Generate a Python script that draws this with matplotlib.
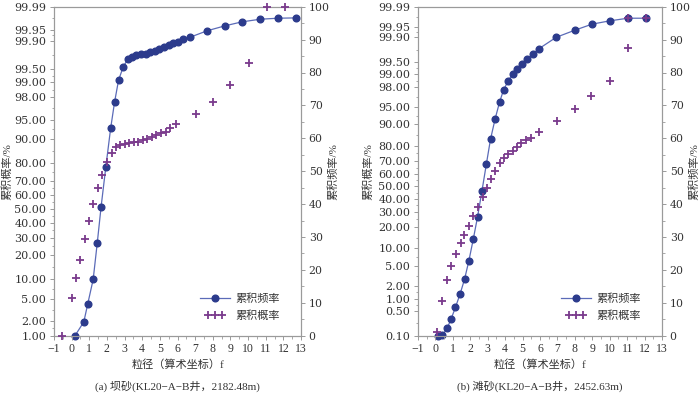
import math
import numpy as np
import matplotlib
matplotlib.use("Agg")
import matplotlib.pyplot as plt
from matplotlib.legend_handler import HandlerLine2D
from matplotlib.ticker import FixedLocator, FixedFormatter, MultipleLocator

plt.rcParams['font.family'] = ['Liberation Serif', 'Noto Sans CJK SC']
plt.rcParams['axes.unicode_minus'] = True

# ---------------- data ----------------
# panel (a)  坝砂
a_freq_x = [0.19, 0.69, 0.91, 1.22, 1.45, 1.67, 1.94, 2.21, 2.43, 2.66, 2.93, 3.18, 3.43, 3.67,
            3.92, 4.19, 4.46, 4.70, 4.95, 5.22, 5.49, 5.73, 6.00, 6.32, 6.70, 7.69, 8.70, 9.66,
            10.70, 11.70, 12.72]
a_freq = [0.0, 4.2, 9.6, 17.1, 28.1, 39.2, 51.4, 63.0, 70.9, 77.7, 81.8, 84.0, 84.8, 85.2,
          85.5, 85.7, 86.1, 86.6, 87.1, 87.8, 88.4, 88.9, 89.4, 90.1, 90.7, 92.7, 94.2, 95.4,
          96.2, 96.5, 96.6]
a_prob_x = [-0.54, 0.00, 0.26, 0.47, 0.76, 0.99, 1.23, 1.50, 1.73, 2.00, 2.26, 2.51, 2.76, 3.00,
            3.27, 3.52, 3.77, 4.03, 4.28, 4.55, 4.80, 5.06, 5.33, 5.60, 5.94, 7.03, 8.00, 8.95,
            10.03, 11.09, 12.07]
a_prob = [1.00, 5.18, 10.37, 17.47, 28.94, 41.33, 53.51, 65.28, 73.63, 80.51, 84.73, 87.43,
          88.05, 88.41, 88.67, 89.00, 89.22, 89.80, 90.11, 90.82, 91.33, 91.82, 92.25, 93.12,
          94.03, 95.92, 97.58, 98.87, 99.63, 99.99, 99.99]

# panel (b)  滩砂
b_freq_x = [0.15, 0.40, 0.67, 0.90, 1.15, 1.42, 1.67, 1.92, 2.17, 2.42, 2.67, 2.92, 3.16, 3.43,
            3.68, 3.91, 4.18, 4.43, 4.70, 4.97, 5.28, 5.59, 5.93, 6.93, 8.02, 8.99, 10.00,
            11.04, 12.07]
b_freq = [0.0, 0.12, 2.25, 5.08, 8.63, 12.77, 17.14, 22.8, 29.3, 36.2, 44.0, 52.1, 59.7, 66.0,
          71.0, 74.7, 77.5, 79.5, 81.2, 82.6, 84.2, 85.6, 87.2, 90.7, 92.9, 94.7, 95.7, 96.5,
          96.5]
b_prob_x = [0.09, 0.38, 0.67, 0.92, 1.17, 1.44, 1.65, 1.90, 2.17, 2.42, 2.71, 2.94, 3.19, 3.42,
            3.68, 3.91, 4.16, 4.43, 4.70, 4.93, 5.22, 5.51, 5.97, 6.95, 7.98, 8.94, 9.99, 11.04,
            11.04, 12.07]
b_prob = [0.132, 0.90, 2.64, 4.98, 8.00, 11.94, 15.72, 20.81, 27.22, 33.29, 41.06, 48.92, 55.84,
          62.74, 68.79, 72.38, 74.86, 77.01, 79.07, 81.38, 83.15, 84.33, 87.12, 91.31, 94.48,
          96.93, 98.57, 99.787, 99.975, 99.975]

left_ticks_a = [1, 2, 5, 10, 20, 30, 40, 50, 60, 70, 80, 90, 95, 98, 99, 99.5, 99.9, 99.95, 99.99]
left_ticks_b = [0.1, 0.5, 1, 2, 5, 10, 20, 30, 40, 50, 60, 70, 80, 90, 95, 98, 99, 99.5, 99.9,
                99.95, 99.99]
right_ticks = [0, 10, 20, 30, 40, 50, 60, 70, 80, 90, 100]
x_ticks = list(range(-1, 14))

captions = ["(a) 坝砂(KL20−A−B井，2182.48m)", "(b) 滩砂(KL20−A−B井，2452.63m)"]
xlabel = "粒径（算术坐标）f"
left_label = "累积概率/%"
right_label = "累积频率/%"
legend_labels = ["累积频率", "累积概率"]

# ---------------- probability scale ----------------
_a = [-3.969683028665376e+01, 2.209460984245205e+02, -2.759285104469687e+02,
      1.383577518672690e+02, -3.066479806614716e+01, 2.506628277459239e+00]
_b = [-5.447609879822406e+01, 1.615858368580409e+02, -1.556989798598866e+02,
      6.680131188771972e+01, -1.328068155288572e+01]
_c = [-7.784894002430293e-03, -3.223964580411365e-01, -2.400758277161838e+00,
      -2.549732539343734e+00, 4.374664141464968e+00, 2.938163982698783e+00]
_d = [7.784695709041462e-03, 3.224671290700398e-01, 2.445134137142996e+00,
      3.754408661907416e+00]


def _ppf(p):
    p = np.clip(np.asarray(p, dtype=float), 1e-9, 1 - 1e-9)
    out = np.empty_like(p)
    plow = 0.02425
    lo = p < plow
    hi = p > 1 - plow
    mid = ~(lo | hi)
    if np.any(lo):
        q = np.sqrt(-2 * np.log(p[lo]))
        out[lo] = (((((_c[0]*q+_c[1])*q+_c[2])*q+_c[3])*q+_c[4])*q+_c[5]) / \
                  ((((_d[0]*q+_d[1])*q+_d[2])*q+_d[3])*q+1)
    if np.any(hi):
        q = np.sqrt(-2 * np.log(1 - p[hi]))
        out[hi] = -(((((_c[0]*q+_c[1])*q+_c[2])*q+_c[3])*q+_c[4])*q+_c[5]) / \
                   ((((_d[0]*q+_d[1])*q+_d[2])*q+_d[3])*q+1)
    if np.any(mid):
        q = p[mid] - 0.5
        r = q * q
        out[mid] = (((((_a[0]*r+_a[1])*r+_a[2])*r+_a[3])*r+_a[4])*r+_a[5])*q / \
                   (((((_b[0]*r+_b[1])*r+_b[2])*r+_b[3])*r+_b[4])*r+1)
    return out


_erf = np.frompyfunc(math.erf, 1, 1)


def fwd(v):
    return _ppf(np.asarray(v, dtype=float) / 100.0)


def inv(z):
    z = np.asarray(z, dtype=float)
    return 100.0 * 0.5 * (1 + _erf(z / math.sqrt(2)).astype(float))


def fmt(v):
    return "%.2f" % v

# ---------------- figure ----------------
fig = plt.figure(figsize=(7.0, 3.97), dpi=100)

BLUE_M = "#2c3b8c"
BLUE_L = "#5b6bb8"
PURPLE = "#7a3a8c"
SPINE = "#9a9a9a"
TXT = "#333333"

panels = [
    dict(left=54, right=301, freq_x=a_freq_x, freq=a_freq, prob_x=a_prob_x, prob=a_prob,
         ticks=left_ticks_a, ylim=(1, 99.99)),
    dict(left=418, right=662, freq_x=b_freq_x, freq=b_freq, prob_x=b_prob_x, prob=b_prob,
         ticks=left_ticks_b, ylim=(0.1, 99.99)),
]

W, H = 700.0, 397.0
top_px, bot_px = 6.7, 335.7

for i, P in enumerate(panels):
    rect = [P['left']/W, (H-bot_px)/H, (P['right']-P['left'])/W, (bot_px-top_px)/H]
    ax = fig.add_axes(rect)
    ax2 = ax.twinx()
    ax.set_zorder(ax2.get_zorder() + 1)
    ax.patch.set_visible(False)

    ax.set_yscale('function', functions=(fwd, inv))
    ax.set_ylim(*P['ylim'])
    ax.set_xlim(-1, 13)
    ax2.set_ylim(0, 100)

    # series
    ax2.plot(P['freq_x'], P['freq'], color=BLUE_L, lw=0.9, marker='o', ms=4.8,
             mfc=BLUE_M, mec=BLUE_M, clip_on=False, zorder=3)
    ax.plot(P['prob_x'], P['prob'], ls='none', marker='+', ms=6, mew=1.3,
            color=PURPLE, clip_on=False, zorder=4)

    # ticks
    ax.yaxis.set_major_locator(FixedLocator(P['ticks']))
    ax.yaxis.set_major_formatter(FixedFormatter([fmt(t) for t in P['ticks']]))
    zt = fwd(P['ticks'])
    zmid = (zt[:-1] + zt[1:]) / 2
    ax.yaxis.set_minor_locator(FixedLocator(inv(zmid)))
    ax.xaxis.set_major_locator(FixedLocator(x_ticks))
    ax.xaxis.set_minor_locator(MultipleLocator(0.5))
    ax2.yaxis.set_major_locator(FixedLocator(right_ticks))
    ax2.yaxis.set_minor_locator(MultipleLocator(5))

    for a in (ax, ax2):
        for s in a.spines.values():
            s.set_color(SPINE)
            s.set_linewidth(0.8)
        a.tick_params(which='major', direction='out', length=3, width=0.7, color=SPINE,
                      labelcolor=TXT, pad=2.5)
        a.tick_params(which='minor', direction='out', length=1.8, width=0.6, color=SPINE)
    ax.tick_params(axis='x', labelsize=8.5)
    for lab in ax.get_yticklabels():
        lab.set_fontfamily('DejaVu Serif')
        lab.set_fontsize(8.0)
    for lab in ax2.get_yticklabels():
        lab.set_fontfamily('DejaVu Serif')
        lab.set_fontsize(7.8)

    # labels
    xc = (P['left'] + P['right']) / 2 / W
    fig.text(xc, (H-365)/H, xlabel, ha='center', va='center', fontsize=8, color=TXT)
    fig.text(xc, (H-386)/H, captions[i], ha='center', va='center', fontsize=8, color=TXT)
    yc = (H - (top_px + bot_px)/2) / H
    lx = 7 if i == 0 else 368
    rx = 333 if i == 0 else 694
    fig.text(lx/W, yc, left_label, rotation=90, ha='center', va='center', fontsize=8, color=TXT)
    fig.text(rx/W, yc, right_label, rotation=90, ha='center', va='center', fontsize=8, color=TXT)

    # legend
    h1, = ax.plot([], [], color=BLUE_L, lw=0.9, marker='o', ms=4.8, mfc=BLUE_M, mec=BLUE_M)
    h2, = ax.plot([], [], ls='none', marker='+', ms=6, mew=1.3, color=PURPLE)
    leg = ax.legend([h1, h2], legend_labels, loc='lower right',
                    bbox_to_anchor=(0.915, 0.045), frameon=False, fontsize=8,
                    handlelength=2.7, handletextpad=0.5, labelspacing=0.55,
                    borderpad=0, borderaxespad=0,
                    handler_map={h1: HandlerLine2D(numpoints=1),
                                 h2: HandlerLine2D(numpoints=3, marker_pad=0.7)})
    for t in leg.get_texts():
        t.set_color(TXT)

fig.savefig("out.png", dpi=100)
